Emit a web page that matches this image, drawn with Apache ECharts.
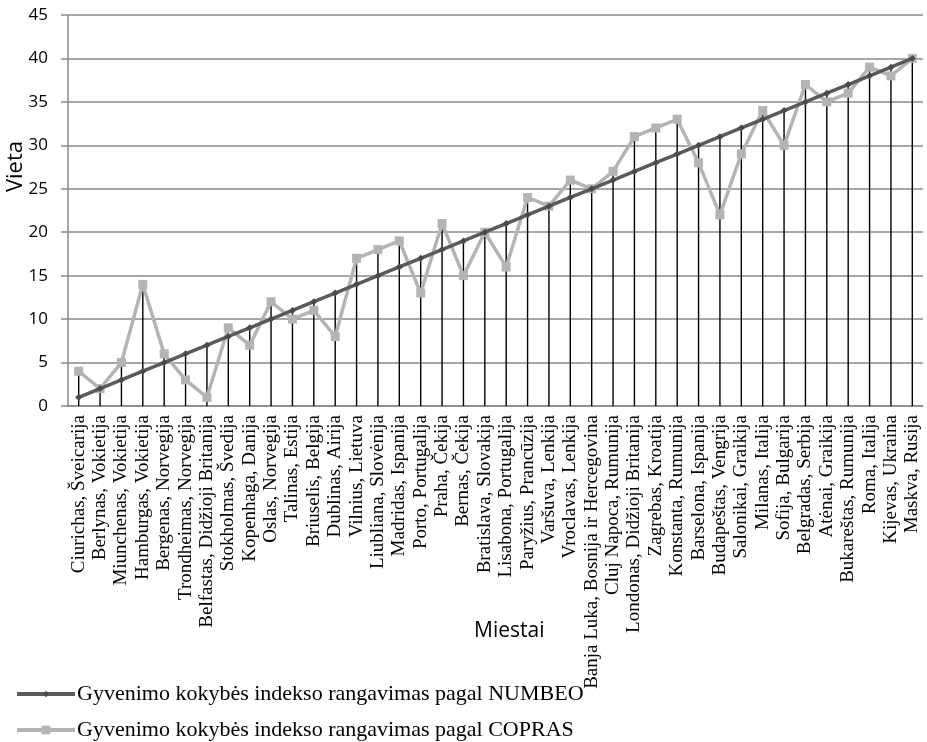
<!DOCTYPE html>
<html>
<head>
<meta charset="utf-8">
<script src="https://cdn.jsdelivr.net/npm/echarts@6/dist/echarts.min.js"></script>
<style>
  html, body { margin: 0; padding: 0; background: #fff; }
  #chart { width: 927px; height: 742px; }
</style>
</head>
<body>
<div id="chart"></div>
<script>
// Cities (x axis categories)
const cities = [
  'Ciurichas, Šveicarija', 'Berlynas, Vokietija', 'Miunchenas, Vokietija', 'Hamburgas, Vokietija',
  'Bergenas, Norvegija', 'Trondheimas, Norvegija', 'Belfastas, Didžioji Britanija', 'Stokholmas, Švedija',
  'Kopenhaga, Danija', 'Oslas, Norvegija', 'Talinas, Estija', 'Briuselis, Belgija',
  'Dublinas, Airija', 'Vilnius, Lietuva', 'Liubliana, Slovėnija', 'Madridas, Ispanija',
  'Porto, Portugalija', 'Praha, Čekija', 'Bernas, Čekija', 'Bratislava, Slovakija',
  'Lisabona, Portugalija', 'Paryžius, Prancūzija', 'Varšuva, Lenkija', 'Vroclavas, Lenkija',
  'Banja Luka, Bosnija ir Hercegovina', 'Cluj Napoca, Rumunija', 'Londonas, Didžioji Britanija', 'Zagrebas, Kroatija',
  'Konstanta, Rumunija', 'Barselona, Ispanija', 'Budapeštas, Vengrija', 'Salonikai, Graikija',
  'Milanas, Italija', 'Sofija, Bulgarija', 'Belgradas, Serbija', 'Atėnai, Graikija',
  'Bukareštas, Rumunija', 'Roma, Italija', 'Kijevas, Ukraina', 'Maskva, Rusija'
];

// Rank by NUMBEO quality of life index
const numbeoRank = [
  1, 2, 3, 4, 5, 6, 7, 8, 9, 10,
  11, 12, 13, 14, 15, 16, 17, 18, 19, 20,
  21, 22, 23, 24, 25, 26, 27, 28, 29, 30,
  31, 32, 33, 34, 35, 36, 37, 38, 39, 40
];

// Rank by COPRAS method
const coprasRank = [
  4, 2, 5, 14, 6, 3, 1, 9, 7, 12,
  10, 11, 8, 17, 18, 19, 13, 21, 15, 20,
  16, 24, 23, 26, 25, 27, 31, 32, 33, 28,
  22, 29, 34, 30, 37, 35, 36, 39, 38, 40
];

const seriesNames = [
  'Gyvenimo kokybės indekso rangavimas pagal NUMBEO',
  'Gyvenimo kokybės indekso rangavimas pagal COPRAS'
];

const yTitle = 'Vieta';
const xTitle = 'Miestai';

// Drop lines run from the higher of the two ranks down to the axis
const dropData = cities.map((c, i) => [i, Math.max(numbeoRank[i], coprasRank[i])]);

const legendText = { fontFamily: 'Liberation Serif', fontSize: 22, color: '#000', padding: [0, 0, 0, -3] };

const chart = echarts.init(document.getElementById('chart'), null, { renderer: 'canvas' });

chart.setOption({
  animation: false,
  backgroundColor: '#ffffff',
  grid: { left: 68, right: 4, top: 15, bottom: 336, containLabel: false },
  legend: [
    {
      left: 10, top: 678, itemWidth: 58, itemHeight: 8, itemGap: 0,
      lineStyle: { width: 4 },
      textStyle: legendText, data: [seriesNames[0]]
    },
    {
      left: 10, top: 714, itemWidth: 58, itemHeight: 11, itemGap: 0,
      lineStyle: { width: 4 },
      textStyle: legendText, data: [seriesNames[1]]
    }
  ],
  graphic: [
    {
      type: 'text', left: 5, top: 141, rotation: Math.PI / 2,
      style: { text: yTitle, fontFamily: 'Open Sans', fontSize: 22, fill: '#000' }
    },
    {
      type: 'text', left: 474, top: 621,
      style: { text: xTitle, fontFamily: 'Open Sans', fontSize: 21, fill: '#000' }
    }
  ],
  xAxis: {
    type: 'category',
    data: cities,
    boundaryGap: true,
    axisLine: { lineStyle: { color: '#8a8a8a', width: 1.5 } },
    axisTick: { show: false },
    axisLabel: {
      interval: 0,
      rotate: 90,
      margin: 9,
      fontFamily: 'Liberation Serif',
      fontSize: 19,
      color: '#000'
    },
    splitLine: { show: false }
  },
  yAxis: {
    type: 'value',
    min: 0,
    max: 45,
    interval: 5,
    axisLine: { show: true, lineStyle: { color: '#8a8a8a', width: 1.5 } },
    axisTick: { show: true, length: 7, lineStyle: { color: '#8a8a8a', width: 1.5 } },
    axisLabel: { fontFamily: 'Open Sans', fontSize: 17, color: '#000', margin: 20 },
    splitLine: { lineStyle: { color: '#8a8a8a', width: 1.5 } }
  },
  series: [
    {
      type: 'custom',
      name: 'drop',
      z: 1,
      silent: true,
      data: dropData,
      encode: { x: 0, y: 1 },
      renderItem: function (params, api) {
        const top = api.coord([api.value(0), api.value(1)]);
        const bottom = api.coord([api.value(0), 0]);
        return {
          type: 'line',
          shape: { x1: top[0], y1: top[1], x2: bottom[0], y2: bottom[1] },
          style: { stroke: '#000', lineWidth: 1.4 }
        };
      }
    },
    {
      type: 'line',
      name: seriesNames[1],
      data: coprasRank,
      z: 3,
      symbol: 'rect',
      symbolSize: 9,
      lineStyle: { color: '#b4b4b4', width: 3.5 },
      itemStyle: { color: '#b4b4b4' }
    },
    {
      type: 'line',
      name: seriesNames[0],
      data: numbeoRank,
      z: 4,
      symbol: 'diamond',
      symbolSize: 7,
      lineStyle: { color: '#5a5a5a', width: 3.5 },
      itemStyle: { color: '#4a4a4a' }
    }
  ]
});
</script>
</body>
</html>
